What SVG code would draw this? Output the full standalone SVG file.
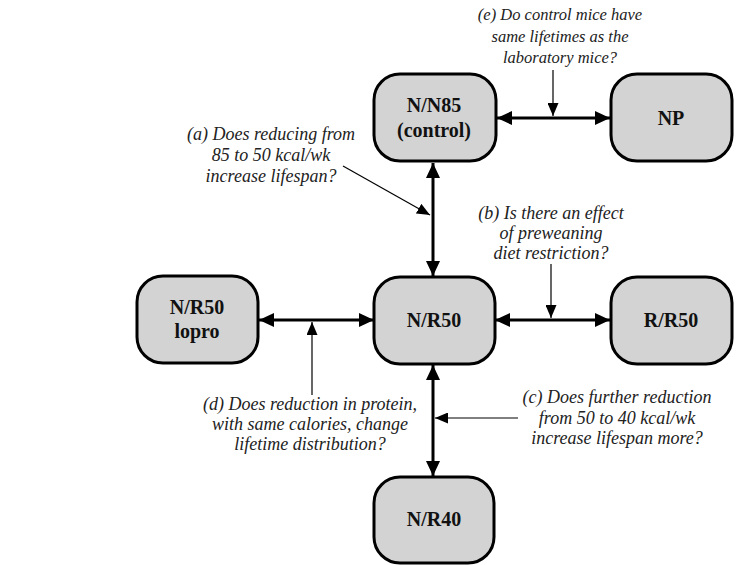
<svg xmlns="http://www.w3.org/2000/svg" width="746" height="565" viewBox="0 0 746 565">
<style>
.node rect{fill:#d3d3d3;stroke:#000;stroke-width:3}
.node text{font-family:"Liberation Serif",serif;font-weight:bold;font-size:20px;text-anchor:middle;fill:#111}
.thick{stroke:#000;stroke-width:3;fill:none}
.thin{stroke:#000;stroke-width:1.2;fill:none}
.lbl{font-family:"Liberation Serif",serif;font-style:italic;font-size:18px;text-anchor:middle;fill:#222}
</style>
<defs>
<marker id="big" markerUnits="userSpaceOnUse" markerWidth="15" markerHeight="14" refX="15" refY="7" orient="auto-start-reverse"><path d="M0,0 L15,7 L0,14 z" fill="#000"/></marker>
<marker id="small" markerUnits="userSpaceOnUse" markerWidth="13" markerHeight="11" refX="13" refY="5.5" orient="auto"><path d="M0,0 L13,5.5 L0,11 z" fill="#000"/></marker>
</defs>
<rect width="746" height="565" fill="#fff"/>
<g id="connectors">
<line class="thick" x1="497" y1="118" x2="610" y2="118" marker-start="url(#big)" marker-end="url(#big)"/>
<line class="thick" x1="433" y1="163" x2="433" y2="276" marker-start="url(#big)" marker-end="url(#big)"/>
<line class="thick" x1="259" y1="320" x2="374" y2="320" marker-start="url(#big)" marker-end="url(#big)"/>
<line class="thick" x1="495" y1="320" x2="610" y2="320" marker-start="url(#big)" marker-end="url(#big)"/>
<line class="thick" x1="433" y1="365" x2="433" y2="476" marker-start="url(#big)" marker-end="url(#big)"/>
<line class="thin" x1="553" y1="70" x2="553" y2="116" marker-end="url(#small)"/>
<line class="thin" x1="343" y1="166" x2="430" y2="215" marker-end="url(#small)"/>
<line class="thin" x1="551" y1="264" x2="551" y2="318" marker-end="url(#small)"/>
<line class="thin" x1="312" y1="395" x2="312" y2="322" marker-end="url(#small)"/>
<line class="thin" x1="518" y1="418" x2="435" y2="418" marker-end="url(#small)"/>
</g>
<g id="n85" class="node"><rect x="374" y="74" width="122" height="87" rx="26"/><text x="434" y="112">N/N85</text><text x="434" y="137">(control)</text></g>
<g id="np" class="node"><rect x="611" y="74" width="121" height="87" rx="26"/><text x="671" y="125">NP</text></g>
<g id="lopro" class="node"><rect x="137" y="276" width="121" height="87" rx="26"/><text x="197" y="314">N/R50</text><text x="197" y="338">lopro</text></g>
<g id="r50" class="node"><rect x="374" y="277" width="121" height="87" rx="26"/><text x="434" y="327">N/R50</text></g>
<g id="rr50" class="node"><rect x="611" y="277" width="121" height="87" rx="26"/><text x="671" y="327">R/R50</text></g>
<g id="r40" class="node"><rect x="374" y="477" width="120" height="86" rx="26"/><text x="434" y="526">N/R40</text></g>
<g id="labels" class="lbl">
<text x="560" y="20" font-size="16.5">(e) Do control mice have</text>
<text x="560" y="42" font-size="16.5">same lifetimes as the</text>
<text x="560" y="63" font-size="16.5">laboratory mice?</text>
<text x="271" y="140">(a) Does reducing from</text>
<text x="271" y="161">85 to 50 kcal/wk</text>
<text x="271" y="182">increase lifespan?</text>
<text x="551" y="219">(b) Is there an effect</text>
<text x="551" y="239">of preweaning</text>
<text x="551" y="259">diet restriction?</text>
<text x="310" y="410">(d) Does reduction in protein,</text>
<text x="310" y="430">with same calories, change</text>
<text x="310" y="450">lifetime distribution?</text>
<text x="617" y="403">(c) Does further reduction</text>
<text x="617" y="424">from 50 to 40 kcal/wk</text>
<text x="617" y="444">increase lifespan more?</text>
</g>
</svg>
